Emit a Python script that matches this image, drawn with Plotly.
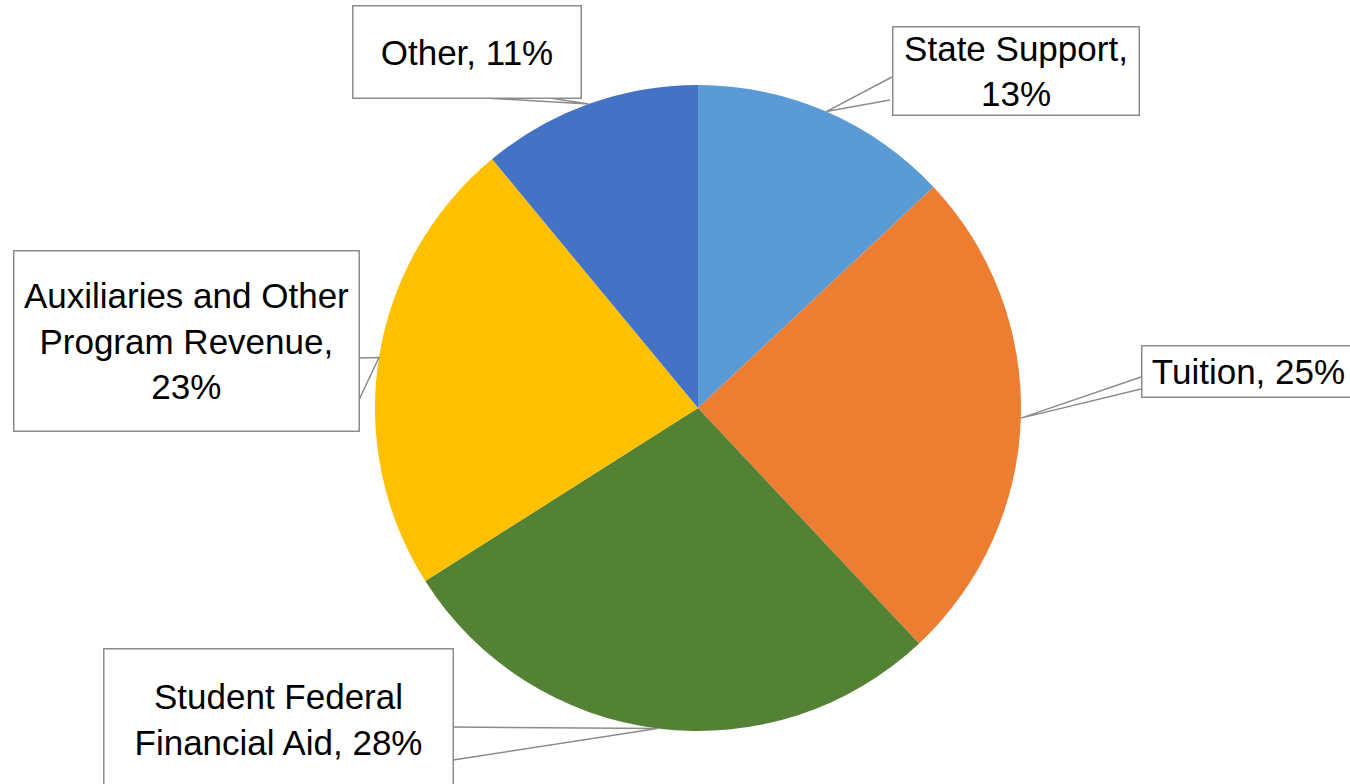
import math
import plotly.graph_objects as go

# ---- data ----
categories = ["State Support", "Tuition", "Student Federal Financial Aid",
              "Auxiliaries and Other Program Revenue", "Other"]
values = [13, 25, 28, 23, 11]
label_texts = ["State Support,<br>13%", "Tuition, 25%", "Student Federal<br>Financial Aid, 28%",
               "Auxiliaries and Other<br>Program Revenue,<br>23%", "Other, 11%"]
colors = ["#5B9BD5", "#ED7D31", "#548235", "#FFC000", "#4472C4"]

W, H = 1350, 784
CX, CY, R = 698, 408, 323  # pie centre / radius in pixels

# callout boxes: (left, top, width, height) in px, and two attach points on the box edge
boxes = [
    (892, 26, 245, 87, (892, 77), (890, 100)),
    (1141, 345, 212, 50, (1141, 377), (1141, 389)),
    (103, 648, 348, 140, (453, 727), (453, 760)),
    (13, 250, 344, 179, (359, 358), (359, 400)),
    (352, 5, 227, 91, (485, 98), (543, 97)),
]

def px(x):
    return x / W

def py(y):
    return 1 - y / H

fig = go.Figure()
fig.add_trace(go.Pie(
    labels=categories, values=values, sort=False, direction="clockwise", rotation=0,
    marker=dict(colors=colors, line=dict(width=0)),
    textinfo="none", hoverinfo="label+percent", showlegend=False,
    domain=dict(x=[px(CX - R), px(CX + R)], y=[py(CY + R), py(CY - R)]),
))

total = sum(values)
cum = 0
shapes = []
annotations = []
for v, txt, b in zip(values, label_texts, boxes):
    mid = (cum + v / 2) / total * 2 * math.pi
    cum += v
    tx = CX + R * math.sin(mid)
    ty = CY - R * math.cos(mid)
    left, top, bw, bh, a1, a2 = b
    shapes.append(dict(
        type="path", xref="paper", yref="paper",
        path=f"M {px(a1[0])} {py(a1[1])} L {px(tx)} {py(ty)} L {px(a2[0])} {py(a2[1])}",
        line=dict(color="#8C8C8C", width=1.5),
    ))
    annotations.append(dict(
        x=px(left), y=py(top), xref="paper", yref="paper",
        xanchor="left", yanchor="top", text=txt, showarrow=False,
        width=bw, height=bh, align="center", valign="middle",
        bgcolor="white", bordercolor="#8C8C8C", borderwidth=1.5, borderpad=0,
        font=dict(family="Liberation Sans, Arial, sans-serif", size=35, color="black"),
    ))

fig.update_layout(
    width=W, height=H, margin=dict(l=0, r=0, t=0, b=0),
    paper_bgcolor="white", plot_bgcolor="white",
    shapes=shapes, annotations=annotations,
)
fig.write_html("out.html")
